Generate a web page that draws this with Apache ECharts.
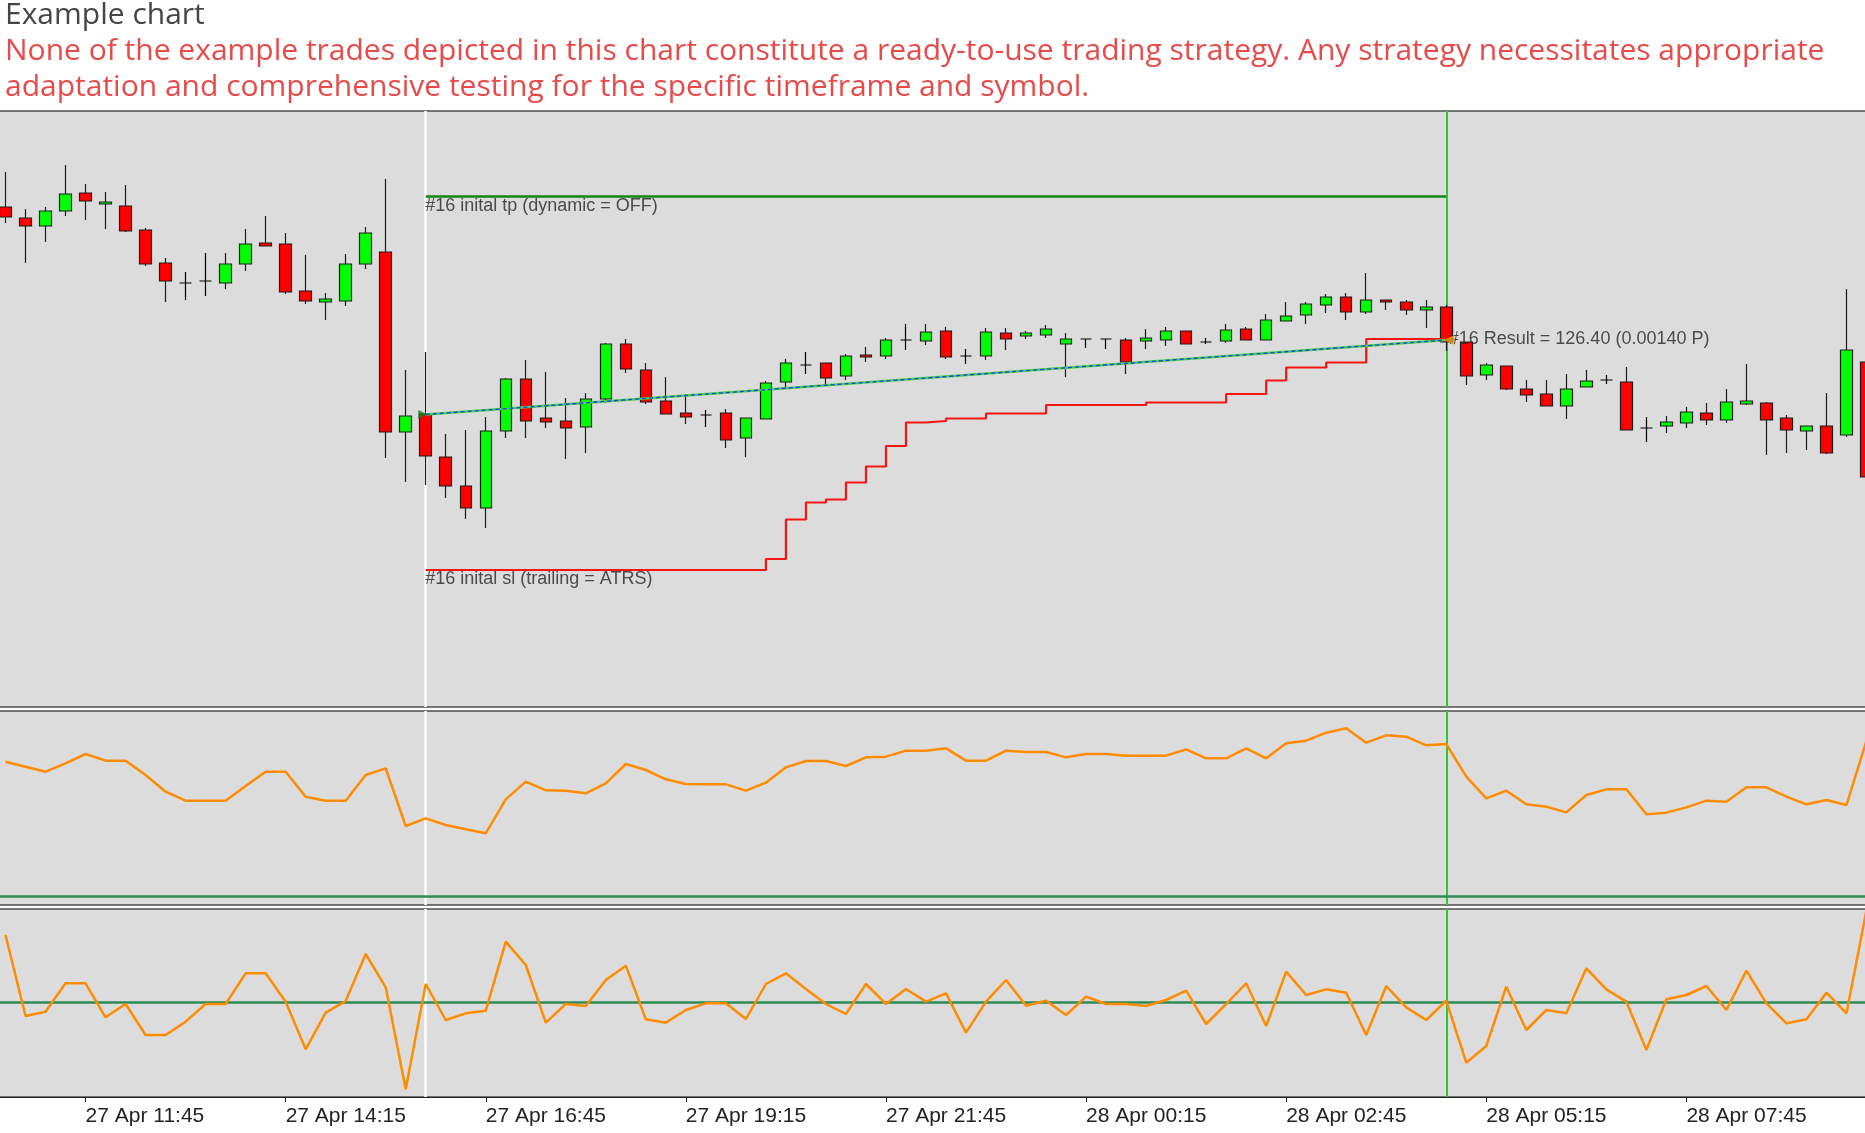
<!DOCTYPE html>
<html>
<head>
<meta charset="utf-8">
<title>Example chart</title>
<script src="https://cdn.jsdelivr.net/npm/echarts@6/dist/echarts.min.js"></script>
<style>
    html, body { margin: 0; padding: 0; background: #fff; }
    #chart { width: 1865px; height: 1133px; }
</style>
</head>
<body>
<div id="chart"></div>
<script>
// 15 min bars
var categories = [
    '27 Apr 10:45','27 Apr 11:00','27 Apr 11:15','27 Apr 11:30','27 Apr 11:45','27 Apr 12:00','27 Apr 12:15','27 Apr 12:30',
    '27 Apr 12:45','27 Apr 13:00','27 Apr 13:15','27 Apr 13:30','27 Apr 13:45','27 Apr 14:00','27 Apr 14:15','27 Apr 14:30',
    '27 Apr 14:45','27 Apr 15:00','27 Apr 15:15','27 Apr 15:30','27 Apr 15:45','27 Apr 16:00','27 Apr 16:15','27 Apr 16:30',
    '27 Apr 16:45','27 Apr 17:00','27 Apr 17:15','27 Apr 17:30','27 Apr 17:45','27 Apr 18:00','27 Apr 18:15','27 Apr 18:30',
    '27 Apr 18:45','27 Apr 19:00','27 Apr 19:15','27 Apr 19:30','27 Apr 19:45','27 Apr 20:00','27 Apr 20:15','27 Apr 20:30',
    '27 Apr 20:45','27 Apr 21:00','27 Apr 21:15','27 Apr 21:30','27 Apr 21:45','27 Apr 22:00','27 Apr 22:15','27 Apr 22:30',
    '27 Apr 22:45','27 Apr 23:00','27 Apr 23:15','27 Apr 23:30','27 Apr 23:45','28 Apr 00:00','28 Apr 00:15','28 Apr 00:30',
    '28 Apr 00:45','28 Apr 01:00','28 Apr 01:15','28 Apr 01:30','28 Apr 01:45','28 Apr 02:00','28 Apr 02:15','28 Apr 02:30',
    '28 Apr 02:45','28 Apr 03:00','28 Apr 03:15','28 Apr 03:30','28 Apr 03:45','28 Apr 04:00','28 Apr 04:15','28 Apr 04:30',
    '28 Apr 04:45','28 Apr 05:00','28 Apr 05:15','28 Apr 05:30','28 Apr 05:45','28 Apr 06:00','28 Apr 06:15','28 Apr 06:30',
    '28 Apr 06:45','28 Apr 07:00','28 Apr 07:15','28 Apr 07:30','28 Apr 07:45','28 Apr 08:00','28 Apr 08:15','28 Apr 08:30',
    '28 Apr 08:45','28 Apr 09:00','28 Apr 09:15','28 Apr 09:30','28 Apr 09:45','28 Apr 10:00'
];

// [open, close, low, high]
var candles = [
    [1.07806, 1.07786, 1.07774, 1.07876], [1.07784, 1.07768, 1.07694, 1.07802], [1.07768, 1.07798, 1.07736, 1.07806],
    [1.07798, 1.07832, 1.07788, 1.07890], [1.07834, 1.07818, 1.07780, 1.07852], [1.07812, 1.07816, 1.07762, 1.07836],
    [1.07808, 1.07758, 1.07756, 1.07850], [1.07760, 1.07692, 1.07688, 1.07764], [1.07694, 1.07658, 1.07616, 1.07704],
    [1.07654, 1.07654, 1.07620, 1.07676], [1.07658, 1.07658, 1.07628, 1.07714], [1.07654, 1.07692, 1.07642, 1.07714],
    [1.07692, 1.07732, 1.07678, 1.07762], [1.07734, 1.07728, 1.07728, 1.07788], [1.07732, 1.07636, 1.07632, 1.07754],
    [1.07638, 1.07618, 1.07612, 1.07710], [1.07616, 1.07622, 1.07580, 1.07634], [1.07618, 1.07692, 1.07608, 1.07712],
    [1.07692, 1.07754, 1.07682, 1.07766], [1.07716, 1.07356, 1.07304, 1.07862], [1.07356, 1.07388, 1.07256, 1.07480],
    [1.07392, 1.07308, 1.07250, 1.07516], [1.07306, 1.07248, 1.07224, 1.07352], [1.07248, 1.07204, 1.07182, 1.07360],
    [1.07204, 1.07358, 1.07164, 1.07386], [1.07358, 1.07462, 1.07344, 1.07464], [1.07462, 1.07378, 1.07344, 1.07500],
    [1.07384, 1.07376, 1.07364, 1.07476], [1.07378, 1.07364, 1.07302, 1.07424], [1.07366, 1.07422, 1.07314, 1.07434],
    [1.07422, 1.07532, 1.07414, 1.07534], [1.07532, 1.07482, 1.07474, 1.07542], [1.07480, 1.07416, 1.07412, 1.07494],
    [1.07418, 1.07392, 1.07392, 1.07466], [1.07394, 1.07386, 1.07372, 1.07432], [1.07390, 1.07390, 1.07366, 1.07400],
    [1.07394, 1.07340, 1.07324, 1.07402], [1.07344, 1.07384, 1.07306, 1.07384], [1.07382, 1.07454, 1.07382, 1.07458],
    [1.07456, 1.07494, 1.07446, 1.07502], [1.07490, 1.07490, 1.07472, 1.07516], [1.07494, 1.07464, 1.07450, 1.07494],
    [1.07468, 1.07508, 1.07460, 1.07512], [1.07510, 1.07506, 1.07496, 1.07526], [1.07508, 1.07540, 1.07502, 1.07544],
    [1.07540, 1.07540, 1.07520, 1.07572], [1.07538, 1.07556, 1.07530, 1.07572], [1.07558, 1.07506, 1.07502, 1.07566],
    [1.07508, 1.07508, 1.07492, 1.07522], [1.07508, 1.07556, 1.07500, 1.07564], [1.07554, 1.07542, 1.07520, 1.07564],
    [1.07548, 1.07554, 1.07542, 1.07558], [1.07550, 1.07562, 1.07544, 1.07570], [1.07532, 1.07542, 1.07466, 1.07554],
    [1.07542, 1.07542, 1.07524, 1.07542], [1.07542, 1.07542, 1.07522, 1.07542], [1.07540, 1.07496, 1.07472, 1.07544],
    [1.07538, 1.07544, 1.07522, 1.07562], [1.07540, 1.07558, 1.07528, 1.07566], [1.07558, 1.07532, 1.07532, 1.07558],
    [1.07536, 1.07536, 1.07532, 1.07544], [1.07538, 1.07560, 1.07534, 1.07572], [1.07562, 1.07540, 1.07540, 1.07566],
    [1.07540, 1.07580, 1.07540, 1.07592], [1.07578, 1.07588, 1.07578, 1.07616], [1.07590, 1.07612, 1.07572, 1.07616],
    [1.07610, 1.07626, 1.07594, 1.07632], [1.07626, 1.07596, 1.07580, 1.07634], [1.07596, 1.07620, 1.07592, 1.07674],
    [1.07620, 1.07616, 1.07600, 1.07620], [1.07616, 1.07600, 1.07590, 1.07620], [1.07600, 1.07606, 1.07564, 1.07620],
    [1.07606, 1.07536, 1.07518, 1.07610], [1.07536, 1.07468, 1.07450, 1.07536], [1.07470, 1.07490, 1.07460, 1.07494],
    [1.07488, 1.07442, 1.07440, 1.07488], [1.07442, 1.07430, 1.07416, 1.07460], [1.07432, 1.07408, 1.07408, 1.07460],
    [1.07408, 1.07442, 1.07382, 1.07472], [1.07446, 1.07458, 1.07446, 1.07480], [1.07460, 1.07460, 1.07452, 1.07470],
    [1.07456, 1.07360, 1.07360, 1.07486], [1.07364, 1.07364, 1.07336, 1.07386], [1.07368, 1.07376, 1.07354, 1.07388],
    [1.07374, 1.07396, 1.07364, 1.07406], [1.07394, 1.07380, 1.07370, 1.07414], [1.07380, 1.07416, 1.07374, 1.07442],
    [1.07412, 1.07418, 1.07410, 1.07492], [1.07414, 1.07380, 1.07310, 1.07416], [1.07384, 1.07360, 1.07314, 1.07390],
    [1.07358, 1.07368, 1.07320, 1.07368], [1.07368, 1.07314, 1.07312, 1.07434], [1.07350, 1.07520, 1.07346, 1.07642],
    [1.07496, 1.07266, 1.07266, 1.07496]
];

// upper indicator panel (level line at 0)
var trendLine = [
    80.6, 77.6, 74.6, 79.6, 85.2, 81.2, 81.2, 72.6, 62.6, 57.2,
    57.2, 57.2, 66, 74.6, 74.6, 59.6, 57.2, 57.2, 72.6, 76.6,
    42, 46.6, 42.6, 40, 37.6, 58, 68.6, 63.4, 63.2, 61.6,
    67.6, 79.2, 75.6, 70, 67.2, 67, 67, 63.2, 68, 77.2,
    81, 81, 78, 83.2, 83.6, 87.2, 87.2, 88.6, 81.2, 81.2,
    87.2, 86.4, 86.4, 83.2, 85.2, 85.2, 84.2, 84.2, 84.2, 88,
    82.6, 82.6, 88.6, 82.6, 91.6, 93.2, 98, 100.6, 92, 96.4,
    95.6, 90.4, 91.2, 71.6, 58.6, 63.2, 55, 53.6, 50.2, 60.6,
    64, 64, 49, 50, 53.2, 57.2, 56.6, 65.2, 65.2, 59.6,
    55, 57.6, 54.6, 93.2
];

// lower oscillator panel (zero line)
var oscLine = [
    40.4, -8.2, -5.6, 11.4, 11.4, -9, -1, -19.6, -19.6, -11.6,
    -1, -1, 17.4, 17.4, 0.4, -28.2, -6.2, 0.8, 29, 9,
    -52.2, 11, -10.6, -6.6, -5, 36.4, 22.4, -12.2, -1, -2.2,
    13.4, 22, -10.2, -12.2, -4.6, -0.6, -0.6, -10, 11, 17.4,
    8, -1, -7, 11, -1, 8, 0.4, 5.4, -18.2, 0.4,
    13.4, -2, 1, -7.6, 3.4, -1, -1, -2.2, 1.4, 7,
    -13, -1, 11.4, -14.2, 18.4, 4.4, 7.8, 5.8, -19.6, 9.8,
    -3, -10.6, 1, -36.2, -26.2, 9.4, -16.6, -4.6, -6.6, 20.4,
    7.8, 0.4, -28.6, 1.8, 4.4, 9.8, -4.6, 19, -0.6, -12.6,
    -10.2, 5.8, -6.6, 55.4
];

// trade #16
var entryIndex = 21;
var exitIndex = 72;
var entryPrice = 1.07391;
var exitPrice = 1.07540;
var tpPrice = 1.07827;
// trailing stop, one level per bar from entryIndex to exitIndex
var slLevels = [
    1.07080, 1.07080, 1.07080, 1.07080, 1.07080, 1.07080, 1.07080, 1.07080, 1.07080,
    1.07080, 1.07080, 1.07080, 1.07080, 1.07080, 1.07080, 1.07080, 1.07080,
    1.07102, 1.07181, 1.07215, 1.07221, 1.07255, 1.07287, 1.07328, 1.07375, 1.07378,
    1.07383, 1.07383, 1.07393, 1.07393, 1.07393,
    1.07410, 1.07410, 1.07410, 1.07410, 1.07410,
    1.07415, 1.07415, 1.07415, 1.07415,
    1.07432, 1.07432, 1.07459, 1.07485, 1.07485, 1.07495, 1.07495,
    1.07542, 1.07542, 1.07542, 1.07542, 1.07542
];
var tradeTexts = [
    '#16 inital tp (dynamic = OFF)',
    '#16 inital sl (trailing = ATRS)',
    '#16 Result = 126.40 (0.00140 P)'
];

var labelEvery = 10;
var labelFirst = 4;

var slData = slLevels.map(function (v, k) { return [entryIndex + k, v]; });

function showTick(idx) {
    return idx % labelEvery === labelFirst;
}

var panelBg = '#dcdcdc';
var gridBase = {
    left: -4.5, right: -11.5, outerBoundsMode: 'none', containLabel: false,
    show: true, backgroundColor: panelBg, borderColor: '#4d4d4d', borderWidth: 1.5
};

function xAx(gridIndex, visible) {
    return {
        type: 'category', gridIndex: gridIndex, data: categories, boundaryGap: true,
        show: visible,
        axisLine: { show: true, onZero: false, lineStyle: { color: '#222', width: 1 } },
        axisTick: { show: true, alignWithLabel: true, interval: showTick, length: 5, lineStyle: { color: '#222' } },
        axisLabel: {
            interval: showTick, align: 'left', margin: 9,
            fontFamily: 'Liberation Sans', fontSize: 21, color: '#222'
        },
        splitLine: { show: false }
    };
}

function vLines() {
    return {
        silent: true, z: 1, symbol: ['none', 'none'], label: { show: false },
        data: [
            { xAxis: categories[entryIndex], lineStyle: { color: '#ffffff', width: 2.5, type: 'solid' } },
            { xAxis: categories[exitIndex], lineStyle: { color: '#33c633', width: 2, type: 'solid' } }
        ]
    };
}

function panelLines() {
    var m = vLines();
    m.data.push({ yAxis: 0, lineStyle: { color: '#2e8b57', width: 2.5, type: 'solid' } });
    return m;
}

var labelFont = { fontFamily: 'Liberation Sans', fontSize: 18, color: '#262626' };

var option = {
    animation: false,
    backgroundColor: '#ffffff',
    title: [
        {
            text: 'Example chart', left: 5, top: 0, padding: 0,
            textStyle: { fontFamily: 'Open Sans', fontSize: 30, fontWeight: 'normal', color: '#454545', lineHeight: 30 }
        },
        {
            text: 'None of the example trades depicted in this chart constitute a ready-to-use trading strategy. Any strategy necessitates appropriate\nadaptation and comprehensive testing for the specific timeframe and symbol.',
            left: 5, top: 33, padding: 0,
            textStyle: { fontFamily: 'Open Sans', fontSize: 30, fontWeight: 'normal', color: '#e84a4a', lineHeight: 36 }
        }
    ],
    grid: [
        Object.assign({ top: 111, height: 596 }, gridBase),
        Object.assign({ top: 711, height: 194 }, gridBase),
        Object.assign({ top: 909, height: 188 }, gridBase)
    ],
    xAxis: [xAx(0, false), xAx(1, false), xAx(2, true)],
    yAxis: [
        { type: 'value', gridIndex: 0, min: 1.06806, max: 1.07998, show: false, splitLine: { show: false } },
        { type: 'value', gridIndex: 1, min: -5.4, max: 111, show: false, splitLine: { show: false } },
        { type: 'value', gridIndex: 2, min: -56.8, max: 56, show: false, splitLine: { show: false } }
    ],
    series: [
        {
            name: 'price', type: 'candlestick', xAxisIndex: 0, yAxisIndex: 0,
            data: candles, barWidth: 12,
            itemStyle: {
                color: '#00ff00', color0: '#ff0000',
                borderColor: '#1c1c1c', borderColor0: '#1c1c1c', borderColorDoji: '#000000',
                borderWidth: 1.2
            },
            markLine: vLines()
        },
        {
            name: 'tp', type: 'line', xAxisIndex: 0, yAxisIndex: 0, z: 4,
            data: [[entryIndex, tpPrice], [exitIndex, tpPrice]],
            symbol: 'none', lineStyle: { color: '#15861a', width: 2.5 }
        },
        {
            name: 'sl', type: 'line', xAxisIndex: 0, yAxisIndex: 0, z: 4,
            data: slData, step: 'end',
            symbol: 'none', lineStyle: { color: '#f51414', width: 2.2 }
        },
        {
            name: 'trade', type: 'line', xAxisIndex: 0, yAxisIndex: 0, z: 4,
            data: [[entryIndex, entryPrice], [exitIndex, exitPrice]],
            symbol: 'none', lineStyle: { color: '#45d045', width: 2.6 }
        },
        {
            name: 'trade dash', type: 'line', xAxisIndex: 0, yAxisIndex: 0, z: 5,
            data: [[entryIndex, entryPrice], [exitIndex, exitPrice]],
            symbol: 'none', lineStyle: { color: '#1f3cff', width: 1.3, type: [4, 3] }
        },
        {
            name: 'markers', type: 'scatter', xAxisIndex: 0, yAxisIndex: 0, z: 6,
            data: [
                { value: [entryIndex, entryPrice], symbol: 'triangle', symbolRotate: -90, symbolSize: 9, symbolOffset: [-3, 0], itemStyle: { color: '#1d7a1d' } },
                { value: [exitIndex, exitPrice], symbol: 'triangle', symbolRotate: 90, symbolSize: 10, symbolOffset: [3, 0], itemStyle: { color: '#e6a21e' } }
            ]
        },
        {
            name: 'trade labels', type: 'scatter', xAxisIndex: 0, yAxisIndex: 0, z: 5,
            symbolSize: 1, itemStyle: { color: 'rgba(0,0,0,0)' },
            label: { show: true },
            data: [
                { value: [entryIndex, tpPrice], label: Object.assign({ show: true, formatter: tradeTexts[0], position: [0, 10], align: 'left', verticalAlign: 'middle' }, labelFont) },
                { value: [entryIndex, slLevels[0]], label: Object.assign({ show: true, formatter: tradeTexts[1], position: [0, 10], align: 'left', verticalAlign: 'middle' }, labelFont) },
                { value: [exitIndex, exitPrice], label: Object.assign({ show: true, formatter: tradeTexts[2], position: [3, 0], align: 'left', verticalAlign: 'middle' }, labelFont) }
            ]
        },
        {
            name: 'trend', type: 'line', xAxisIndex: 1, yAxisIndex: 1, z: 3,
            data: trendLine, symbol: 'none',
            lineStyle: { color: '#ff8c00', width: 2.5 },
            markLine: panelLines()
        },
        {
            name: 'osc', type: 'line', xAxisIndex: 2, yAxisIndex: 2, z: 3,
            data: oscLine, symbol: 'none',
            lineStyle: { color: '#ff8c00', width: 2.5 },
            markLine: panelLines()
        }
    ]
};

var chart = echarts.init(document.getElementById('chart'));
chart.setOption(option);
</script>
</body>
</html>
